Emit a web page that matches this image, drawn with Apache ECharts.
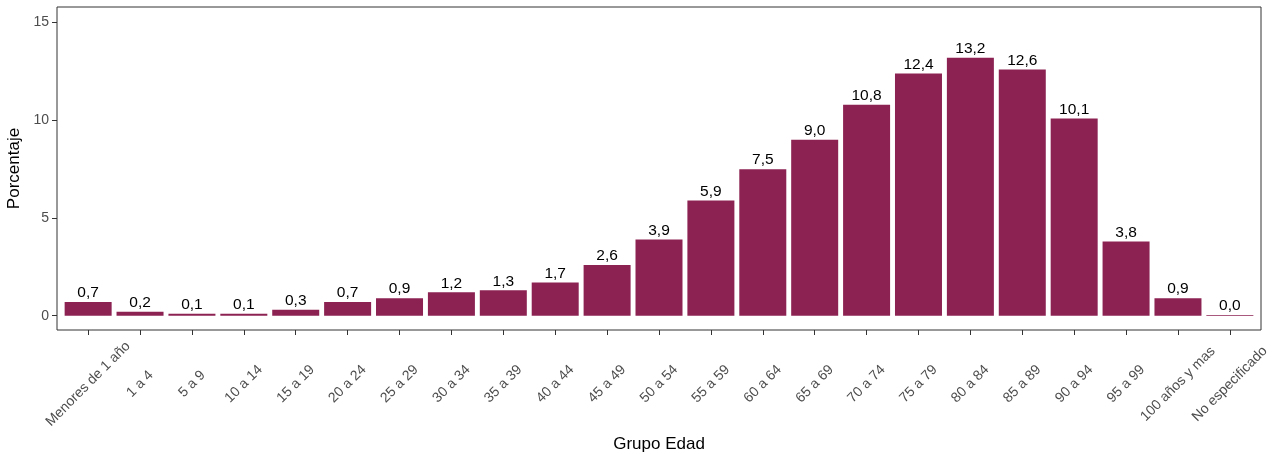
<!DOCTYPE html>
<html>
<head>
<meta charset="utf-8">
<script src="https://cdn.jsdelivr.net/npm/echarts@6/dist/echarts.min.js"></script>
<style>
  html, body { margin: 0; padding: 0; background: #fff; }
  #chart { width: 1277px; height: 454px; }
</style>
</head>
<body>
<div id="chart"></div>
<script>
// grupos de edad
const grupos = ["Menores de 1 año", "1 a 4", "5 a 9", "10 a 14", "15 a 19", "20 a 24", "25 a 29",
  "30 a 34", "35 a 39", "40 a 44", "45 a 49", "50 a 54", "55 a 59", "60 a 64", "65 a 69",
  "70 a 74", "75 a 79", "80 a 84", "85 a 89", "90 a 94", "95 a 99", "100 años y mas", "No especificado"];
// porcentaje por grupo
const porcentaje = [0.7, 0.2, 0.1, 0.1, 0.3, 0.7, 0.9, 1.2, 1.3, 1.7, 2.6, 3.9, 5.9, 7.5, 9.0,
  10.8, 12.4, 13.2, 12.6, 10.1, 3.8, 0.9, 0.04];
const yTicks = [0, 5, 10, 15];

const posiciones = grupos.map((g, i) => i + 1);
const datos = porcentaje.map((v, i) => [i + 1, v]);

const chart = echarts.init(document.getElementById("chart"));
const fuente = "Liberation Sans, Arial, sans-serif";

chart.setOption({
  animation: false,
  grid: {
    left: 57, right: 16, top: 7, bottom: 124,
    outerBoundsMode: "none",
    containLabel: false,
    show: true, borderColor: "#333333", borderWidth: 1, backgroundColor: "#fff"
  },
  xAxis: {
    type: "value",
    min: 0.4,
    max: grupos.length + 0.6,
    name: "Grupo Edad",
    nameLocation: "middle",
    nameGap: 99,
    nameTextStyle: { color: "#000", fontSize: 17, fontFamily: fuente },
    axisLine: { show: false, onZero: false },
    splitLine: { show: false },
    axisTick: { show: true, length: 5, lineStyle: { color: "#333" }, customValues: posiciones },
    axisLabel: {
      customValues: posiciones,
      rotate: 45,
      align: "center",
      verticalAlign: "middle",
      margin: 54,
      color: "#4d4d4d",
      fontSize: 14,
      fontFamily: fuente,
      formatter: (v) => grupos[Math.round(v) - 1] || ""
    }
  },
  yAxis: {
    type: "value",
    min: -0.73,
    max: 15.8,
    name: "Porcentaje",
    nameLocation: "middle",
    nameGap: 23,
    nameTextStyle: { color: "#000", fontSize: 17, fontFamily: fuente },
    axisLine: { show: false, onZero: false },
    splitLine: { show: false },
    axisTick: { show: true, length: 5, lineStyle: { color: "#333" }, customValues: yTicks },
    axisLabel: {
      customValues: yTicks,
      margin: 8,
      color: "#4d4d4d",
      fontSize: 14,
      fontFamily: fuente
    }
  },
  series: [{
    type: "bar",
    data: datos,
    barWidth: 47,
    itemStyle: { color: "#8B2252" },
    label: {
      show: true,
      position: "top",
      distance: 1,
      color: "#000",
      fontSize: 15.5,
      fontFamily: fuente,
      formatter: (p) => p.data[1].toFixed(1).replace(".", ",")
    }
  }]
});
</script>
</body>
</html>
